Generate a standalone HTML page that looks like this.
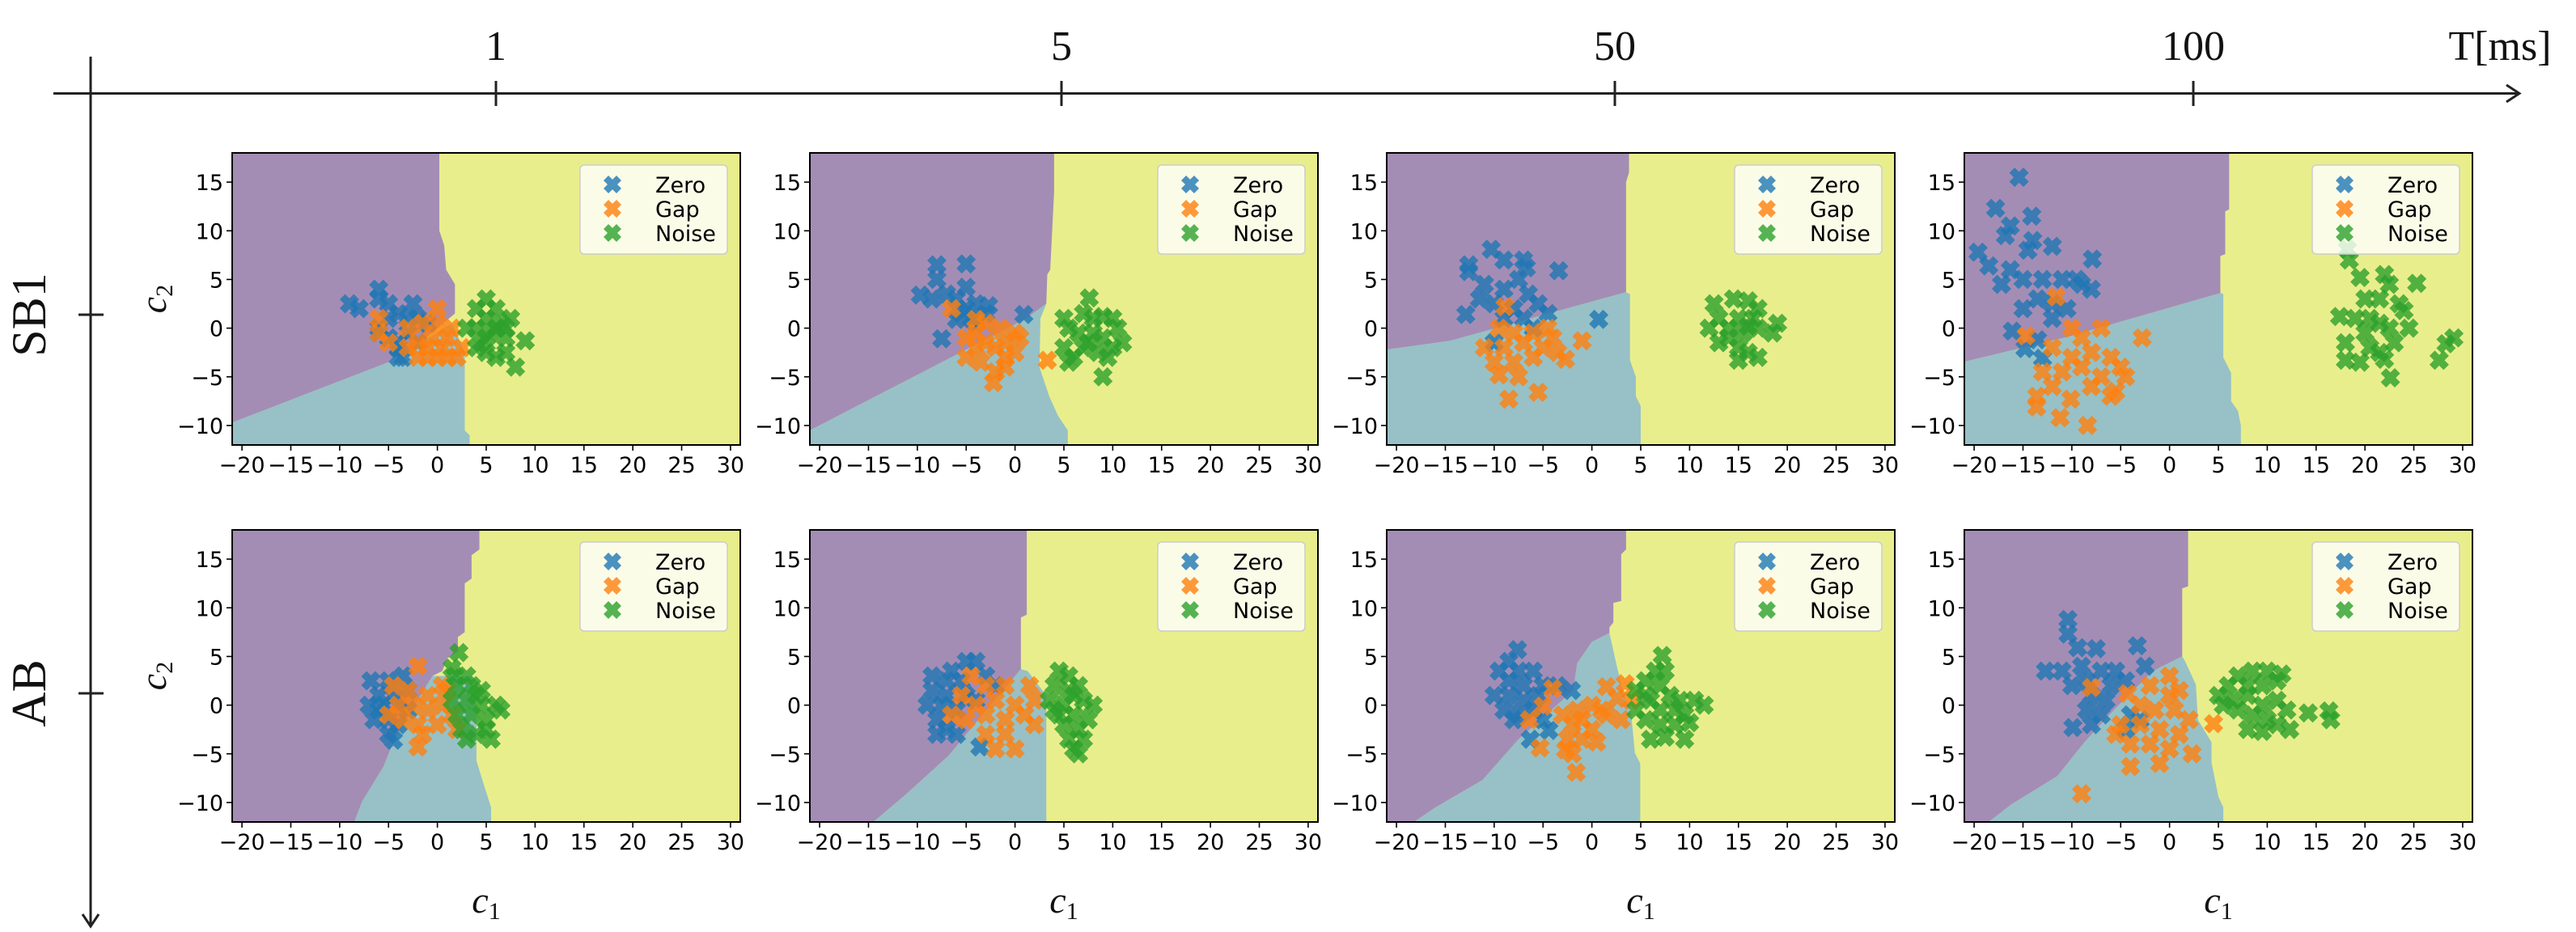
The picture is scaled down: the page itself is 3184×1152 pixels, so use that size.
<!DOCTYPE html>
<html><head><meta charset="utf-8"><style>
html,body{margin:0;padding:0;background:#fff;}
svg{display:block;}
</style></head><body>
<svg id="fig" width="3184" height="1152" viewBox="0 0 3184 1152" xmlns="http://www.w3.org/2000/svg">
<g stroke="#222" stroke-width="3">
<line x1="66" y1="115.5" x2="3112" y2="115.5"/>
<polyline points="3098,105 3114,115.5 3098,126" fill="none"/>
<line x1="613" y1="100" x2="613" y2="131"/><line x1="1312" y1="100" x2="1312" y2="131"/>
<line x1="1996" y1="100" x2="1996" y2="131"/><line x1="2711" y1="100" x2="2711" y2="131"/>
</g>
<g stroke="#222" stroke-width="3">
<line x1="112" y1="70" x2="112" y2="1143"/>
<polyline points="102,1130 112,1145 122,1130" fill="none"/>
<line x1="97" y1="389" x2="128" y2="389"/><line x1="97" y1="857" x2="128" y2="857"/>
</g>
<g font-family="'Liberation Serif',serif" font-size="52" fill="#111" text-anchor="middle">
<text x="613" y="74">1</text>
<text x="1312" y="74">5</text>
<text x="1996" y="74">50</text>
<text x="2711" y="74">100</text>
<text x="3090" y="74">T[ms]</text>
<text transform="translate(56,389) rotate(-90)" font-size="60">SB1</text>
<text transform="translate(56,857) rotate(-90)" font-size="60">AB</text>
</g>
<g id="panels"></g>
</svg>
<script>
const xTicks=[-20,-15,-10,-5,0,5,10,15,20,25,30];
const yTicks=[-10,-5,0,5,10,15];
const xDomain=[-21,31];
const yDomain=[-12,18];
const rowNames=["SB1","AB"];
const colNames=["1","5","50","100"];
const classNames=["Zero","Gap","Noise"];

const purpleP1=[[-21,18],[0.2,18],[0.2,10],[0.7,8.5],[0.9,6],[1.8,4.5],[1.8,1.5],[-3,-2.5],[-5,-3.5],[-21,-9.7]];
const tealP1=[[-21,-9.7],[-5,-3.5],[-2.5,-2],[1.5,0.5],[2.8,-2.5],[2.8,-10.5],[3.3,-11],[3.3,-12],[-21,-12]];
const purpleP2=[[-21,18],[4,18],[4,14],[3.6,6],[3.3,5.5],[3.2,2.5],[1,0.9],[-21,-10.5]];
const tealP2=[[-21,-10.5],[1,0.9],[3.2,2.5],[2.6,1],[2.5,-4],[3.5,-7],[4.4,-9],[5.4,-10.5],[5.4,-12],[-21,-12]];
const purpleP3=[[-21,18],[3.8,18],[3.8,16],[3.5,15],[3.5,3.7],[-14.5,-1.3],[-21,-2.2]];
const tealP3=[[-21,-2.2],[-14.5,-1.3],[3.5,3.7],[3.9,3.5],[3.9,-3.3],[4.5,-5],[4.5,-7],[5,-8],[5,-12],[-21,-12]];
const purpleP4=[[-21,18],[6.1,18],[6.1,12.2],[5.7,12],[5.7,7.6],[5.2,7.4],[5.2,3.6],[-10.4,-0.9],[-21,-3.45]];
const tealP4=[[-21,-3.45],[-10.4,-0.9],[5.2,3.6],[5.5,3.5],[5.5,-3],[6.3,-4.6],[6.3,-7.5],[7,-8.5],[7.3,-10],[7.3,-12],[-21,-12]];
const purpleP5=[[-21,18],[4.3,18],[4.3,16],[3.5,15.4],[3.5,13],[2.8,12.5],[2.8,7.5],[2.1,7],[2.1,5.5],[1,4.8],[0.5,3.5],[-0.5,3],[-4.4,-3.5],[-5.5,-6.3],[-7.7,-9.9],[-8.5,-12],[-21,-12]];
const tealP5=[[-0.5,3],[3.5,3],[4,-0.7],[4,-5.7],[4.7,-8],[5.5,-10.5],[5.5,-12],[-8.5,-12],[-7.7,-9.9],[-5.5,-6.3],[-4.4,-3.5]];
const purpleP6=[[-21,18],[1.2,18],[1.2,9.3],[0.6,9],[0.6,3.7],[-3.1,-0.7],[-6.8,-5.2],[-11.2,-9.2],[-14.5,-12],[-21,-12]];
const tealP6=[[0.6,3.7],[1.3,3.5],[3.2,1],[3.2,-12],[-14.5,-12],[-11.2,-9.2],[-6.8,-5.2],[-3.1,-0.7]];
const purpleP7=[[-21,18],[3.5,18],[3.5,16],[3,15.5],[3,10.7],[2.2,10.5],[2.2,8.5],[1.8,8],[1.8,7.4],[0,6.5],[-1.5,4.3],[-1.9,1.5],[-7.5,-3.5],[-11.2,-7.7],[-16,-10.5],[-18.2,-12],[-21,-12]];
const tealP7=[[1.8,7.4],[2,6.5],[2.6,3.8],[3.3,1],[4,-0.7],[4.4,-4.9],[4.95,-6],[4.95,-12],[-18.2,-12],[-16,-10.5],[-11.2,-7.7],[-7.5,-3.5],[-1.9,1.5],[-1.5,4.3],[0,6.5]];
const purpleP8=[[-21,18],[1.9,18],[1.9,12.2],[1.3,12],[1.3,5],[-1.7,3.5],[-5.5,-0.3],[-8.7,-3.8],[-11.5,-7.3],[-16.2,-10.2],[-18.5,-12],[-21,-12]];
const tealP8=[[1.3,5],[1.6,4.5],[2.7,2.1],[2.9,-1.5],[4.3,-3.8],[4.3,-5.9],[5,-9.4],[5.5,-10.5],[5.5,-12],[-18.5,-12],[-16.2,-10.2],[-11.5,-7.3],[-8.7,-3.8],[-5.5,-0.3],[-1.7,3.5]];

const zeroP1=[[-9,2.5],[-8,2],[-6,4],[-6,3],[-5,2.5],[-4,1.5],[-2.5,2.5],[-2,1],[-6,0],[-5,-1],[-4,-1.5],[-3,-0.5],[-4,-3],[-3.5,-3],[-4,-2],[-1,0.5],[-5,1],[-3,1],[-2,-1.5],[-6,-0.5]];
const gapP1=[[-6,1],[-6,-0.5],[-5,-1.5],[-3,0],[-2,-1.5],[-1,-2],[0,-3],[-1,-3],[0,2],[0,0.5],[1,-1],[2,-3],[2.5,-2],[-2,-3],[1.5,0],[-0.5,-1],[0.5,-2],[-1.5,0.5],[1,-3],[-3,-2]];
const noiseP1=[[5,3],[4,2],[6,2],[7.5,1],[5,1],[6,0],[4,0],[7,-1],[5,-1],[9,-1.3],[7,-2.5],[8,-4],[5,-2.5],[6,-3],[3,0],[4.5,-1.5],[6.5,0.5],[5.5,-0.5],[7,0],[4,-2]];
const zeroP2=[[-8,6.5],[-5,6.6],[-8,5],[-9.7,3.4],[-8.5,3],[-7,3.5],[-5,4.2],[-6,3],[-4,2.5],[-2.7,2.3],[-5,2],[-6,0.9],[0.9,1.4],[-7.5,-1.1],[-4.5,1],[-3,1.5],[-5.5,1.5],[-4,0.5]];
const gapP2=[[-6.5,2],[-4,0.9],[-3,0.5],[-1.5,0],[0,-0.5],[-5,-1],[-4,-2],[-3,-1.5],[-2,-2],[-1,-1.5],[0,-2.5],[-5,-3],[-3.5,-3.5],[-1,-4],[-2.2,-5.6],[-1,-3],[0.5,-1],[3.3,-3.3],[-2,-4.5],[-4,-0.5]];
const noiseP2=[[7.6,3.1],[7,1.5],[8,1],[9,1.2],[10,1],[5,1],[5.5,0],[6.5,-0.5],[8,-0.5],[9,-1],[10.5,0],[11,-1.5],[5,-2],[6,-3],[7,-2],[8.5,-2.5],[9.5,-3],[10,-2],[9,-5],[5.5,-3.5],[7.5,-1.5]];
const zeroP3=[[-10.3,8.1],[-12.6,6.5],[-12.6,5.8],[-9,7],[-7,7],[-6.7,6.2],[-3.4,5.9],[-11,4.5],[-9,4],[-7.5,5],[-6.5,3.5],[-11.5,3],[-10,2.5],[-8,2],[-5.5,2.5],[-12.9,1.4],[-9,1],[-7,1],[-4.5,1.5],[-6,0],[-10,-1.5],[0.7,0.9]];
const gapP3=[[-8.9,2.2],[-9.5,0],[-8,-0.5],[-6,-0.5],[-4.5,0],[-11,-2],[-9,-2],[-7,-1.5],[-5,-2],[-3.5,-2.5],[-10,-3.5],[-8,-3.5],[-6,-3],[-9.5,-4.8],[-7.5,-5],[-8.5,-7.3],[-5.5,-6.6],[-1,-1.3],[-2.7,-3.2],[-4,-1]];
const noiseP3=[[12.5,2.5],[14.5,3],[16,2.8],[17,2],[13,1],[15,1],[16.5,1],[12,0],[14,0],[15.5,-0.5],[17,0],[19,0.5],[18.5,-0.5],[13,-1.5],[15,-2],[16,-2.5],[15,-3.3],[17,-3],[14,-1],[16,0.2]];
const zeroP4=[[-15.4,15.5],[-17.8,12.3],[-14.1,11.5],[-16.3,10.5],[-16.8,9.5],[-14,9],[-19.6,7.8],[-12,8.4],[-14.5,8],[-7.9,7.1],[-18.5,6.4],[-16.3,6],[-15,5],[-17.2,4.5],[-13,5],[-11,5],[-9,4.5],[-8,4],[-13.5,3],[-12,2.5],[-10.5,2],[-15,2],[-12,1],[-16.1,-0.3],[-14.8,-2.1],[-13,-3.1],[-13.5,-1.2],[-9.5,5]];
const gapP4=[[-11.6,3.2],[-14.7,-0.8],[-10,0],[-7,0],[-9,-1],[-12,-2],[-10,-3],[-8,-2.5],[-6,-3],[-11,-4.5],[-9,-4],[-7,-5],[-5,-4],[-13,-4.5],[-12,-6],[-8,-6],[-5.5,-6.5],[-2.8,-1],[-13.6,-8.1],[-13.6,-7],[-11.2,-9.2],[-8.4,-10],[-10.1,-7.3],[-6,-7],[-4.5,-5]];
const noiseP4=[[18.2,8.1],[18.4,7],[19.5,5.2],[22,5.5],[22.5,4.5],[25.3,4.6],[20,3],[21.5,3],[23.5,2.5],[24,1.8],[17.4,1.2],[19,1],[20.5,1],[21.5,0.5],[20,-0.5],[22.5,0],[24.5,0],[18,-1.5],[20.5,-2],[21.5,-2.5],[23,-1.5],[18,-3.3],[19.5,-3.5],[22,-3.2],[22.6,-5.1],[27.6,-3.3],[29.1,-1],[28.3,-1.6]];
const zeroP5=[[-6.8,2.5],[-5,2.5],[-3.5,3],[-6,1],[-4.5,1],[-7,0],[-5.5,0],[-4,0],[-3,-0.5],[-6.5,-1.5],[-5,-1.5],[-4,-2],[-5,-3],[-4.5,-3.6],[-6,-0.5],[-3,1.5]];
const gapP5=[[-2,4],[-4.5,2],[-3,1.5],[-1,1],[0.5,2],[-4,0],[-2.5,0],[-1,-0.5],[0.5,0],[-3.5,-1.5],[-2,-2],[0,-2],[1.5,-1],[-1.5,-3],[-2,-4.3],[2,-2.5],[-5,-1],[1,1.5]];
const noiseP5=[[2.2,5.4],[1.5,3.8],[3,3],[2,2],[3.5,2],[4.5,1.5],[1.5,0.5],[3,0.5],[4.5,0],[6,0],[2,-1],[3.5,-1],[5,-1.5],[6.5,-0.5],[2.5,-2.5],[4,-3],[5.5,-3.5],[3,-3.5],[5,-2.5],[4,1],[1.8,3]];
const zeroP6=[[-5,4.5],[-4,4.5],[-6.5,3.5],[-8.5,3],[-7,2.5],[-5.5,2.5],[-3,3],[-8.5,1.5],[-7,1],[-5,1],[-9,0],[-7.5,0],[-6,-0.5],[-8,-1.5],[-7,-2.5],[-6,-3],[-8,-3],[-3.6,-4.3],[-2,2],[-4,0.5]];
const gapP6=[[-4.5,3],[-3,2],[-1,2],[1.5,2],[-4,0],[-2,0.5],[0,0],[2,0.5],[-6.5,-1],[-5,-1.5],[-3,-1],[-1,-1.5],[1,-1],[-3,-3],[-1,-3],[0,-4.5],[-2,-4.5],[2,-2],[-5.5,1]];
const noiseP6=[[4.5,3.5],[5.5,3],[4,2],[5.5,1.5],[6.5,2],[3.5,0.5],[5,0],[7,0.5],[8,0],[4.5,-1],[6,-1],[7.5,-1.5],[5,-2],[6.5,-2.5],[5.5,-3.5],[7,-3.5],[6,-4.5],[6.5,-5],[4,-0.5],[6,1]];
const zeroP7=[[-7.6,5.7],[-8.5,4.5],[-9.5,3.5],[-7.5,3.5],[-6,3.5],[-8.5,2.5],[-7,2],[-5,2],[-10,1],[-8.5,1],[-7,0.5],[-5.5,1],[-3.5,2],[-2.1,1.5],[-9,-0.5],[-7.5,-1],[-6,-0.5],[-8,-1.5],[-6.3,-3.5],[-4.4,-2.6],[-5,-1.5]];
const gapP7=[[-4,1.7],[-5,-0.1],[-6.4,-1.5],[1.5,1.9],[3.4,2.2],[2.6,0.7],[0,0],[-1.5,-0.5],[-3,-1],[1.5,-1],[3,-1.5],[-2,-2],[0,-2.5],[-1,-3.5],[-2.5,-3.5],[0.5,-3.8],[-5.3,-4.4],[-2.7,-4.6],[-2,-5],[-1.6,-6.9],[-1,-1.5],[1,-0.5],[4,0.5]];
const noiseP7=[[7.2,5.1],[6.5,3.5],[7.5,3.5],[5.5,2.5],[4.5,1.5],[7,2],[8,1],[6,0.5],[9,0.5],[10.5,0.5],[7,-0.5],[8.5,-0.5],[9.5,-1],[11.5,0],[5.5,-1.5],[7,-2],[8.5,-2],[10,-1.8],[6,-3.5],[7.5,-3.3],[9.5,-3.5],[5.5,1],[4.5,-0.5]];
const zeroP8=[[-10.4,8.8],[-10.4,7.3],[-9.4,5.9],[-7.5,5.8],[-3.3,6.1],[-12.7,3.5],[-11,3.5],[-9,4],[-7,3.5],[-5.5,3.5],[-2.5,4],[-10,2],[-8.5,2.5],[-6,2],[-4.5,2.5],[-8,1],[-6.5,0.5],[-8.5,-0.5],[-7,-1],[-9.9,-2.3],[-8,-2],[-4,-1],[-4.5,-2.5],[-3,-1.5]];
const gapP8=[[-8,1.8],[-4.3,1.2],[-2,2],[0,3],[0,1],[-3,0],[-1.5,-0.5],[0.5,-0.5],[2,-1.5],[-5,-2],[-3,-2],[-1,-2.5],[1,-3],[-4,-4],[-2,-4],[0,-4.5],[2.3,-5],[-4,-6.3],[-1,-6],[4.5,-1.9],[-9,-9.1],[-5.5,-3],[1,1.5]];
const noiseP8=[[7,3],[8.5,3.5],[10,3.5],[11.5,3.2],[6,2],[8,2],[9.5,2],[11,2.5],[5,1],[6.5,0.5],[8,1],[9.5,0],[11,0.5],[7,-0.5],[8.5,-1],[10,-1.5],[12,-0.5],[8,-2.5],[9.5,-2.7],[11,-2],[12.3,-2.5],[14.2,-0.8],[16.3,-0.6],[16.5,-1.5],[5.5,0]];

const panelData=[
 {row:0,col:0,purple:purpleP1,teal:tealP1,pts:[zeroP1,gapP1,noiseP1]},
 {row:0,col:1,purple:purpleP2,teal:tealP2,pts:[zeroP2,gapP2,noiseP2]},
 {row:0,col:2,purple:purpleP3,teal:tealP3,pts:[zeroP3,gapP3,noiseP3]},
 {row:0,col:3,purple:purpleP4,teal:tealP4,pts:[zeroP4,gapP4,noiseP4]},
 {row:1,col:0,purple:purpleP5,teal:tealP5,pts:[zeroP5,gapP5,noiseP5]},
 {row:1,col:1,purple:purpleP6,teal:tealP6,pts:[zeroP6,gapP6,noiseP6]},
 {row:1,col:2,purple:purpleP7,teal:tealP7,pts:[zeroP7,gapP7,noiseP7]},
 {row:1,col:3,purple:purpleP8,teal:tealP8,pts:[zeroP8,gapP8,noiseP8]}
];

const NS="http://www.w3.org/2000/svg";
const colLeft=[287,1001,1714,2428], rowTop=[189,655], PW=628, PH=361;
const markerColors=["rgba(31,119,180,0.8)","rgba(255,127,14,0.8)","rgba(44,160,44,0.8)"];
function mk(tag,attrs,parent){const e=document.createElementNS(NS,tag);for(const k in attrs)e.setAttribute(k,attrs[k]);if(parent)parent.appendChild(e);return e;}
function xPath(cx,cy,a){const b=a*0.55;const p=[[-a,-a+b],[-a+b,-a],[0,-b],[a-b,-a],[a,-a+b],[b,0],[a,a-b],[a-b,a],[0,b],[-a+b,a],[-a,a-b],[-b,0]];return p.map(q=>(cx+q[0]).toFixed(1)+","+(cy+q[1]).toFixed(1)).join(" ");}
const root=document.getElementById("panels");
panelData.forEach((pd,i)=>{
 const L=colLeft[pd.col],T=rowTop[pd.row];
 const sx=x=>L+(x-xDomain[0])/(xDomain[1]-xDomain[0])*PW;
 const sy=y=>T+(yDomain[1]-y)/(yDomain[1]-yDomain[0])*PH;
 const g=mk("g",{},root);
 
 
 const cp=mk("clipPath",{id:"clip"+i},g);
 mk("rect",{x:L,y:T,width:PW,height:PH},cp);
 const reg=mk("g",{"clip-path":"url(#clip"+i+")"},g);
 const bg=mk("rect",{x:L,y:T,width:PW,height:PH,fill:"#e9ee8c"},reg);
 
 
 const pp=mk("polygon",{points:pd.purple.map(p=>sx(p[0])+","+sy(p[1])).join(" "),fill:"#a48db5"},reg);
 
 
 const tp=mk("polygon",{points:pd.teal.map(p=>sx(p[0])+","+sy(p[1])).join(" "),fill:"#97c1c6"},reg);
 
 
 pd.pts.forEach((arr,c)=>{arr.forEach(p=>{
  const m=mk("polygon",{points:xPath(sx(p[0]),sy(p[1]),12),fill:markerColors[c]},reg);
  
  
 });});
 mk("rect",{x:L,y:T,width:PW,height:PH,fill:"none",stroke:"#000","stroke-width":2},g);
 xTicks.forEach(v=>{
  mk("line",{x1:sx(v),x2:sx(v),y1:T+PH,y2:T+PH+7,stroke:"#000","stroke-width":1.6},g);
  const t=mk("text",{x:sx(v),y:T+PH+34,"text-anchor":"middle","font-family":"'DejaVu Sans',sans-serif","font-size":27,fill:"#000"},g);
  t.textContent=(v<0?"\u2212":"")+Math.abs(v);
  
  
 });
 yTicks.forEach(v=>{
  mk("line",{x1:L-7,x2:L,y1:sy(v),y2:sy(v),stroke:"#000","stroke-width":1.6},g);
  const t=mk("text",{x:L-11,y:sy(v)+10,"text-anchor":"end","font-family":"'DejaVu Sans',sans-serif","font-size":27,fill:"#000"},g);
  t.textContent=(v<0?"\u2212":"")+Math.abs(v);
  
  
 });
 const lg=mk("g",{},g);
 
 
 mk("rect",{x:L+PW-198,y:T+15,width:182,height:110,rx:5,fill:"rgba(255,255,255,0.8)",stroke:"#ccc","stroke-width":1.5},lg);
 classNames.forEach((n,c)=>{
  const yy=T+39+c*30;
  mk("polygon",{points:xPath(L+PW-158,yy,11),fill:markerColors[c]},lg);
  const t=mk("text",{x:L+PW-105,y:yy+10,"font-family":"'DejaVu Sans',sans-serif","font-size":27,fill:"#000"},lg);
  t.textContent=n;
  
  
 });
 if(pd.row===1){
  const t=mk("text",{x:L+PW/2,y:1128,"text-anchor":"middle","font-family":"'Liberation Serif',serif","font-size":46,"font-style":"italic",fill:"#111"},g);
  t.innerHTML='c<tspan font-size="30" font-style="normal" dy="8">1</tspan>';
  
  
 }
 if(pd.col===0){
  const t=mk("text",{transform:"translate(205,"+(T+PH/2)+") rotate(-90)","text-anchor":"middle","font-family":"'Liberation Serif',serif","font-size":46,"font-style":"italic",fill:"#111"},g);
  t.innerHTML='c<tspan font-size="30" font-style="normal" dy="8">2</tspan>';
  
  
 }
});
</script>
</body></html>
